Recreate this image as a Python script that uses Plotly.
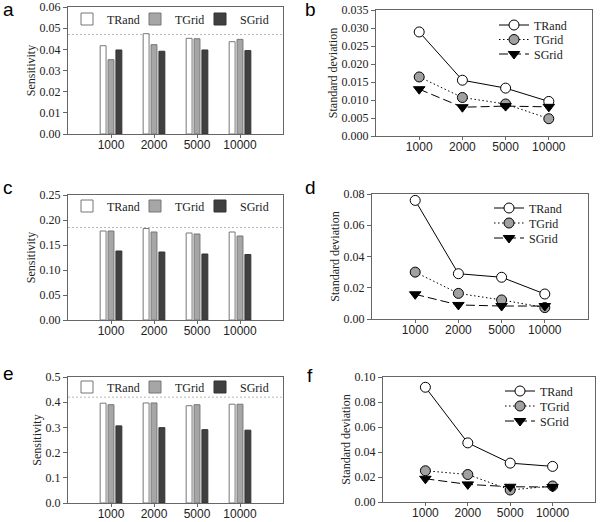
import plotly.graph_objects as go

W, H = 600, 522

sizes = ["1000", "2000", "5000", "10000"]
series = ["TRand", "TGrid", "SGrid"]

# Panel a: sensitivity
sens_a_trand = [0.0417, 0.0474, 0.0452, 0.0436]
sens_a_tgrid = [0.0351, 0.0422, 0.0450, 0.0447]
sens_a_sgrid = [0.0397, 0.0391, 0.0397, 0.0394]
ref_a = 0.047

# Panel b: standard deviation
sd_b_trand = [0.0289, 0.0155, 0.0133, 0.0096]
sd_b_tgrid = [0.0164, 0.0107, 0.0089, 0.0048]
sd_b_sgrid = [0.0130, 0.0080, 0.0083, 0.0081]

# Panel c: sensitivity
sens_c_trand = [0.178, 0.183, 0.174, 0.176]
sens_c_tgrid = [0.178, 0.176, 0.172, 0.168]
sens_c_sgrid = [0.138, 0.136, 0.132, 0.131]
ref_c = 0.185

# Panel d: standard deviation
sd_d_trand = [0.0759, 0.0290, 0.0267, 0.0160]
sd_d_tgrid = [0.0300, 0.0164, 0.0122, 0.0073]
sd_d_sgrid = [0.0158, 0.0090, 0.0083, 0.0083]

# Panel e: sensitivity
sens_e_trand = [0.396, 0.397, 0.386, 0.392]
sens_e_tgrid = [0.390, 0.397, 0.390, 0.392]
sens_e_sgrid = [0.306, 0.299, 0.291, 0.289]
ref_e = 0.42

# Panel f: standard deviation
sd_f_trand = [0.0918, 0.0473, 0.0311, 0.0285]
sd_f_tgrid = [0.0250, 0.0220, 0.0096, 0.0128]
sd_f_sgrid = [0.0186, 0.0141, 0.0122, 0.0120]

SERIF = '"Liberation Serif", "Times New Roman", Times, serif'
SANS = '"Liberation Sans", Arial, Helvetica, sans-serif'

bar_fill = {"TRand": "#ffffff", "TGrid": "#a6a6a6", "SGrid": "#404040"}
bar_edge = {"TRand": "#777777", "TGrid": "#777777", "SGrid": "#333333"}
line_dash = {"TRand": "solid", "TGrid": "1.5px,2.5px", "SGrid": "9px,4px"}
mk_symbol = {"TRand": "circle", "TGrid": "circle", "SGrid": "triangle-down"}
mk_fill = {"TRand": "#ffffff", "TGrid": "#a0a0a0", "SGrid": "#000000"}


def dx(p0, p1):
    return [p0 / W, p1 / W]


def dy(top, bottom):
    return [1 - bottom / H, 1 - top / H]


# legend item anchors in pixels (left x of legend box, centre y of row), per series
bar_leg_x = [67, 135, 200]

panels = [
    # id, kind, data, yrange, dtick, fmt, xdom(px), ydom(px), ref, legend (x list, y list), label pos(px)
    ("a", "bar", [sens_a_trand, sens_a_tgrid, sens_a_sgrid], [0, 0.06], 0.01, ".2f",
     (68, 283), (7, 134), ref_a, (bar_leg_x, [19, 19, 19]), (8, 9)),
    ("b", "line", [sd_b_trand, sd_b_tgrid, sd_b_sgrid], [0, 0.035], 0.005, ".3f",
     (376, 592), (10, 136), None, ([494] * 3, [25, 39.5, 54]), (310, 9)),
    ("c", "bar", [sens_c_trand, sens_c_tgrid, sens_c_sgrid], [0, 0.25], 0.05, ".2f",
     (68, 283), (195, 320), ref_c, (bar_leg_x, [206, 206, 206]), (8, 188)),
    ("d", "line", [sd_d_trand, sd_d_tgrid, sd_d_sgrid], [0, 0.08], 0.02, ".2f",
     (372, 588), (194, 319), None, ([489] * 3, [208, 223, 238]), (310, 188)),
    ("e", "bar", [sens_e_trand, sens_e_tgrid, sens_e_sgrid], [0, 0.5], 0.1, ".1f",
     (68, 283), (377, 503), ref_e, (bar_leg_x, [387, 387, 387]), (8, 373)),
    ("f", "line", [sd_f_trand, sd_f_tgrid, sd_f_sgrid], [0, 0.10], 0.02, ".2f",
     (383, 595), (377, 502), None, ([500] * 3, [391, 406, 421]), (310, 375)),
]

fig = go.Figure()
layout = dict(
    width=W, height=H, autosize=False,
    margin=dict(l=0, r=0, t=0, b=0, autoexpand=False),
    paper_bgcolor="white", plot_bgcolor="white",
    barmode="group", bargap=0.45, bargroupgap=0.25,
    showlegend=True,
)
shapes = []
annotations = []
leg_count = 0

for i, (pid, kind, data, yr, dt, fmt, xd, yd, ref, lg, lab) in enumerate(panels):
    n = i + 1
    xa = "x" if n == 1 else f"x{n}"
    ya = "y" if n == 1 else f"y{n}"
    for k, (s, vals) in enumerate(zip(series, data)):
        leg_count += 1
        lgname = "legend" if leg_count == 1 else f"legend{leg_count}"
        layout[lgname] = dict(
            x=lg[0][k] / W, y=1 - lg[1][k] / H, xanchor="left", yanchor="middle",
            orientation="v", bgcolor="rgba(0,0,0,0)", borderwidth=0,
            font=dict(family=SERIF, size=12, color="#222222"),
        )
        if kind == "bar":
            fig.add_trace(go.Bar(
                x=sizes, y=vals, name=s, xaxis=xa, yaxis=ya, legend=lgname,
                marker=dict(color=bar_fill[s], line=dict(color=bar_edge[s], width=1)),
                offsetgroup=s,
            ))
        else:
            fig.add_trace(go.Scatter(
                x=sizes, y=vals, name=s, xaxis=xa, yaxis=ya, legend=lgname,
                mode="lines+markers",
                line=dict(color="#000000", width=1, dash=line_dash[s]),
                marker=dict(symbol=mk_symbol[s], size=10, color=mk_fill[s],
                            line=dict(color="#000000", width=1)),
            ))
    layout["xaxis" if n == 1 else f"xaxis{n}"] = dict(
        domain=dx(*xd), anchor=ya, type="category", automargin=False,
        categoryorder="array", categoryarray=sizes, range=[-1, 4],
        showline=True, linecolor="#666666", linewidth=1, mirror=True,
        ticks="outside", ticklen=3, tickcolor="#666666",
        ticklabelstandoff=-3,
        tickfont=dict(family=SANS, size=12, color="#222222"),
        showgrid=False, zeroline=False, fixedrange=True,
    )
    layout["yaxis" if n == 1 else f"yaxis{n}"] = dict(
        domain=dy(*yd), anchor=xa, range=yr, dtick=dt, tick0=0, tickformat=fmt,
        automargin=False,
        showline=True, linecolor="#666666", linewidth=1, mirror=True,
        ticks="outside", ticklen=4, tickcolor="#666666",
        tickfont=dict(family=SERIF, size=12, color="#222222"),
        title=dict(text="Sensitivity" if kind == "bar" else "Standard deviation",
                   font=dict(family=SERIF, size=12, color="#222222"), standoff=1),
        showgrid=False, zeroline=False, fixedrange=True,
    )
    if ref is not None:
        shapes.append(dict(type="line", xref=f"{xa} domain", yref=ya,
                           x0=0, x1=1, y0=ref, y1=ref,
                           line=dict(color="#b8b8b8", width=1, dash="2px,2px"),
                           layer="below"))
    annotations.append(dict(text=pid, x=lab[0] / W, y=1 - lab[1] / H,
                            xref="paper", yref="paper", showarrow=False,
                            xanchor="center", yanchor="middle",
                            font=dict(family=SANS, size=19, color="#000000")))

layout["shapes"] = shapes
layout["annotations"] = annotations
fig.update_layout(**layout)
fig.write_html("out.html", config={"displayModeBar": False},
               post_script="document.body.style.margin='0';document.body.style.padding='0';")
